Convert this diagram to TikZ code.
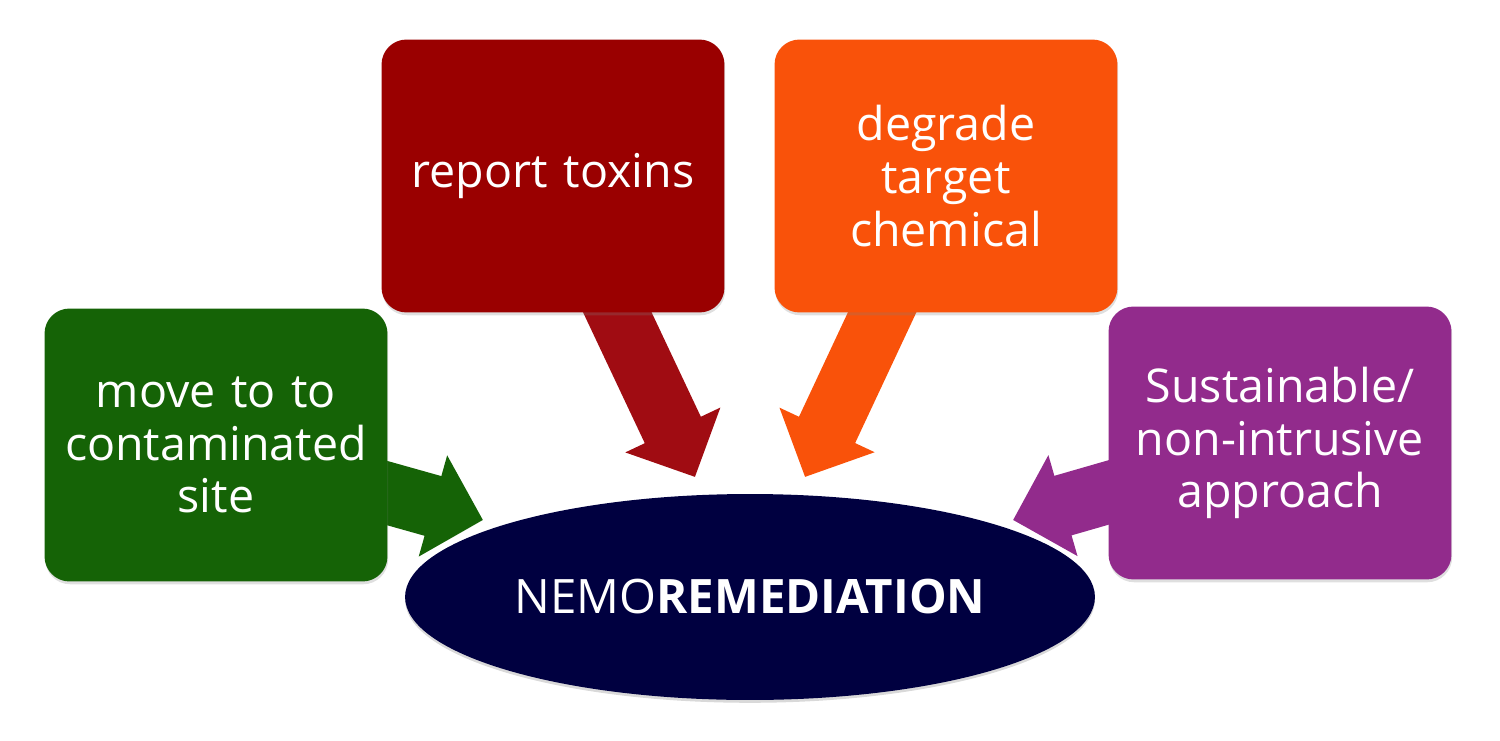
\documentclass[tikz,border=0pt]{standalone}
\usepackage{fontspec}
\setmainfont{Open Sans}
\usepackage{tikz}
\usetikzlibrary{arrows.meta,shapes.geometric,shadows,backgrounds}
\definecolor{movegreen}{RGB}{21,99,6}
\definecolor{toxred}{RGB}{154,0,0}
\definecolor{toxarrow}{RGB}{160,12,18}
\definecolor{degorange}{RGB}{249,82,10}
\definecolor{sustpurple}{RGB}{146,43,140}
\definecolor{nemonavy}{RGB}{0,0,64}
\tikzstyle{taskbox}=[rounded corners=0.5cm, minimum width=6.86cm, minimum height=5.46cm,
  text width=6.6cm, align=center, text=white, font=\fontsize{26.5}{30}\selectfont,
  drop shadow={opacity=0.25, shadow xshift=0.4pt, shadow yshift=-1.6pt}]
\tikzstyle{fatarrow}=[line width=1.24cm, -{Triangle[width=2.04cm, length=1.04cm]}]

\begin{document}
\begin{tikzpicture}[x=0.02cm, y=-0.02cm]
 \useasboundingbox (0,0) rectangle (1500,740);
 % the four boxes
 \node[taskbox, fill=movegreen] (move) at (216,445) {move to to\\contaminated\\site};
 \node[taskbox, fill=toxred] (report) at (553,176) {report toxins};
 \node[taskbox, fill=degorange] (degrade) at (946,176) {degrade\\target\\chemical};
 \node[taskbox, fill=sustpurple] (sustain) at (1280,443) {Sustainable/\\non-intrusive\\approach};
 % the centre
 \node[ellipse, fill=nemonavy, minimum width=13.8cm, minimum height=4.12cm, text=white,
   font=\fontsize{27}{30}\selectfont,
   drop shadow={opacity=0.3, shadow xshift=0pt, shadow yshift=-1.6pt}]
   (nemo) at (750,597) {NEMO\textbf{REMEDIATION}};
 \coordinate (movetip) at (483,520);
 \coordinate (reporttip) at (695,477);
 \coordinate (degradetip) at (805,477);
 \coordinate (sustaintip) at (1013,520);
 \begin{scope}[on background layer]
  \draw[fatarrow, movegreen] (move.center) -- (movetip);
  \draw[fatarrow, toxarrow] (report.center) -- (reporttip);
  \draw[fatarrow, degorange] (degrade.center) -- (degradetip);
  \draw[fatarrow, sustpurple] (sustain.center) -- (sustaintip);
 \end{scope}
\end{tikzpicture}
\end{document}
